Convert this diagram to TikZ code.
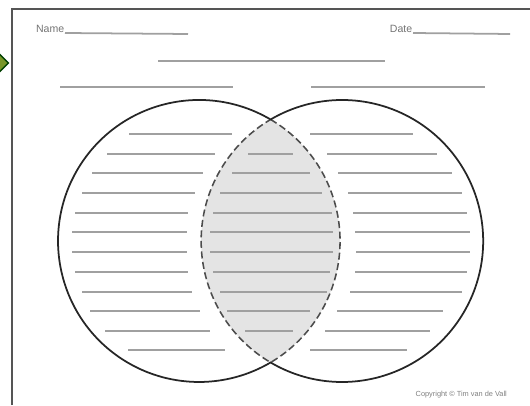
\documentclass[tikz,border=0pt]{standalone}
\usepackage{fontspec}
\newfontfamily\sheetfont{Liberation Sans}
\usepackage{tikz}
\usetikzlibrary{positioning,calc}
\usepackage{xcolor}
\definecolor{frame}{RGB}{85,85,85}
\definecolor{rulegray}{RGB}{160,160,160}
\definecolor{lensfill}{RGB}{228,228,228}
\definecolor{iconfill}{RGB}{120,150,40}

\begin{document}
\begin{tikzpicture}[x=0.5mm,y=0.5mm,
  rule/.style={draw=rulegray,line width=2.5pt},
  head/.style={font=\sheetfont\fontsize{15}{16}\selectfont,text=black!55,inner sep=1pt},
  ring/.style={draw=black!85,line width=2.5pt},
  lens/.style={draw=black!70,fill=lensfill,line width=2.2pt,dash pattern=on 10pt off 5pt}]
  \useasboundingbox (0,0) rectangle (530,405);
  % sheet frame and the bit of the icon at the left
  \filldraw[fill=iconfill,draw=green!25!black,line width=2pt,rotate around={45:(0,342)}]
    (-6,336) rectangle (6,348);
  \coordinate (fb) at (12,0);
  \coordinate (fc) at (12,396);
  \coordinate (fr) at (531,396);
  \draw[frame,line width=3.4pt] (fb) -- (fc) -- (fr);
  % header
  \node[head,anchor=base east] (name) at (65,372) {Name};
  \coordinate (nameend) at (188,371);
  \draw[rule] (name.base east) -- (nameend);
  \node[head,anchor=base east] (date) at (413,372) {Date};
  \coordinate (dateend) at (510,371);
  \draw[rule] (date.base east) -- (dateend);
  \coordinate (tl) at (158,344); \coordinate (tr) at (385,344);
  \draw[rule] (tl) -- (tr);
  \coordinate (al) at (60,318); \coordinate (ar) at (233,318);
  \draw[rule] (al) -- (ar);
  \coordinate (bl) at (311,318); \coordinate (br) at (485,318);
  \draw[rule] (bl) -- (br);
  % the two sets
  \coordinate (L) at (199,164);
  \coordinate (R) at (342,164);
  \coordinate (T) at (270.6,285.5);
  \draw[lens] (T) arc[start angle=59.5,end angle=-59.5,radius=141]
    arc[start angle=239.5,end angle=120.5,radius=141] -- cycle;
  \draw[ring] (T) arc[start angle=59.5,end angle=300.5,radius=141]
    arc[start angle=-120.5,end angle=120.5,radius=141];
  % writing lines
  \foreach \y/\a/\b/\c/\d in {271/129/232/310/413,251/107/215/327/437,232/92/203/338/452,
    212/82/195/348/462,192/75/188/353/467,173/72/187/355/470,153/72/187/356/470,
    133/75/188/355/467,113/82/192/350/462,94/90/200/337/443,74/105/210/325/430,55/128/225/310/407}
    {\draw[rule] (\a,\y) -- (\b,\y);
     \draw[rule] (\c,\y) -- (\d,\y);}
  \foreach \y/\a/\b in {251/248/293,232/232/310,212/220/322,192/213/332,173/210/333,
    153/210/333,133/213/330,113/220/327,94/227/310,74/245/293}
    \draw[rule] (\a,\y) -- (\b,\y);
  % footer
  \node[font=\sheetfont\fontsize{10.5}{12}\selectfont,text=black!50,anchor=base east,inner sep=0pt] (copy) at (507,9)
    {Copyright \textcopyright{} Tim van de Vall};
\end{tikzpicture}
\end{document}
